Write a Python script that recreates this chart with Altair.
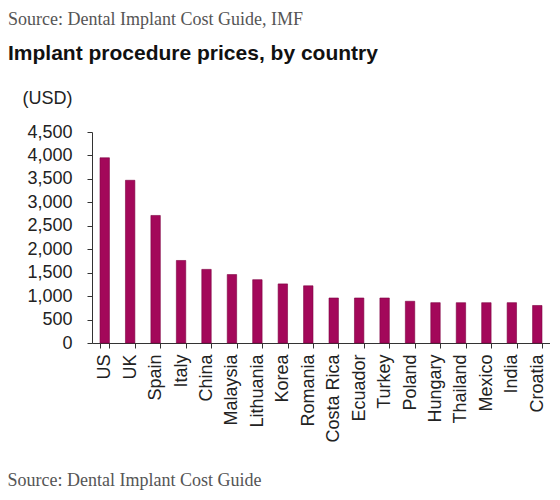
import altair as alt
import pandas as pd

countries = ["US", "UK", "Spain", "Italy", "China", "Malaysia", "Lithuania", "Korea",
             "Romania", "Costa Rica", "Ecuador", "Turkey", "Poland", "Hungary",
             "Thailand", "Mexico", "India", "Croatia"]
prices = [3950, 3470, 2720, 1760, 1570, 1460, 1350, 1260, 1220,
          960, 960, 960, 890, 860, 860, 860, 860, 800]
y_ticks = [0, 500, 1000, 1500, 2000, 2500, 3000, 3500, 4000, 4500]

df = pd.DataFrame({"country": countries, "price": prices})

chart = alt.Chart(df).mark_bar(color="#A3085A", stroke="#7D0042", strokeWidth=0.6).encode(
    x=alt.X("country:N", sort=countries,
            scale=alt.Scale(paddingInner=0.63, paddingOuter=0.315),
            axis=alt.Axis(title="Source: Dental Implant Cost Guide",
                          labelAngle=270, labelAlign="right", labelBaseline="middle",
                          labelFont="Liberation Sans", labelFontSize=18, labelColor="#222",
                          labelPadding=6, tickBand="extent", tickSize=5,
                          tickColor="#333", domainColor="#333",
                          titleFont="Liberation Serif", titleFontSize=18,
                          titleFontWeight="normal", titleColor="#555",
                          titleAlign="left", titleBaseline="alphabetic",
                          titleX=-85, titleY=142)),
    y=alt.Y("price:Q", scale=alt.Scale(domain=[0, 4500], nice=False),
            axis=alt.Axis(values=y_ticks, format=",.0f", grid=False,
                          labelFont="Liberation Sans", labelFontSize=18, labelColor="#222",
                          labelPadding=15, tickSize=5, tickColor="#333", domainColor="#333",
                          title="(USD)", titleAngle=0, titleAlign="left",
                          titleBaseline="middle", titleX=-70, titleY=-34,
                          titleFont="Liberation Sans", titleFontSize=18,
                          titleFontWeight="normal", titleColor="#222"))
).properties(
    width=458,
    height=211,
    autosize=alt.AutoSizeParams(type="none"),
    padding={"left": 84, "top": 124, "right": 0, "bottom": 149},
    title=alt.TitleParams(
        text="Source: Dental Implant Cost Guide, IMF",
        subtitle="Implant procedure prices, by country",
        anchor="start", frame="group", dx=-84, offset=25,
        font="Liberation Serif", fontSize=18, fontWeight="normal", color="#555",
        subtitleFont="Liberation Sans", subtitleFontSize=21,
        subtitleFontWeight="bold", subtitleColor="#111", subtitlePadding=14)
).configure_view(stroke=None)

chart.save("out.html", embed_options={"renderer": "svg", "actions": False})
